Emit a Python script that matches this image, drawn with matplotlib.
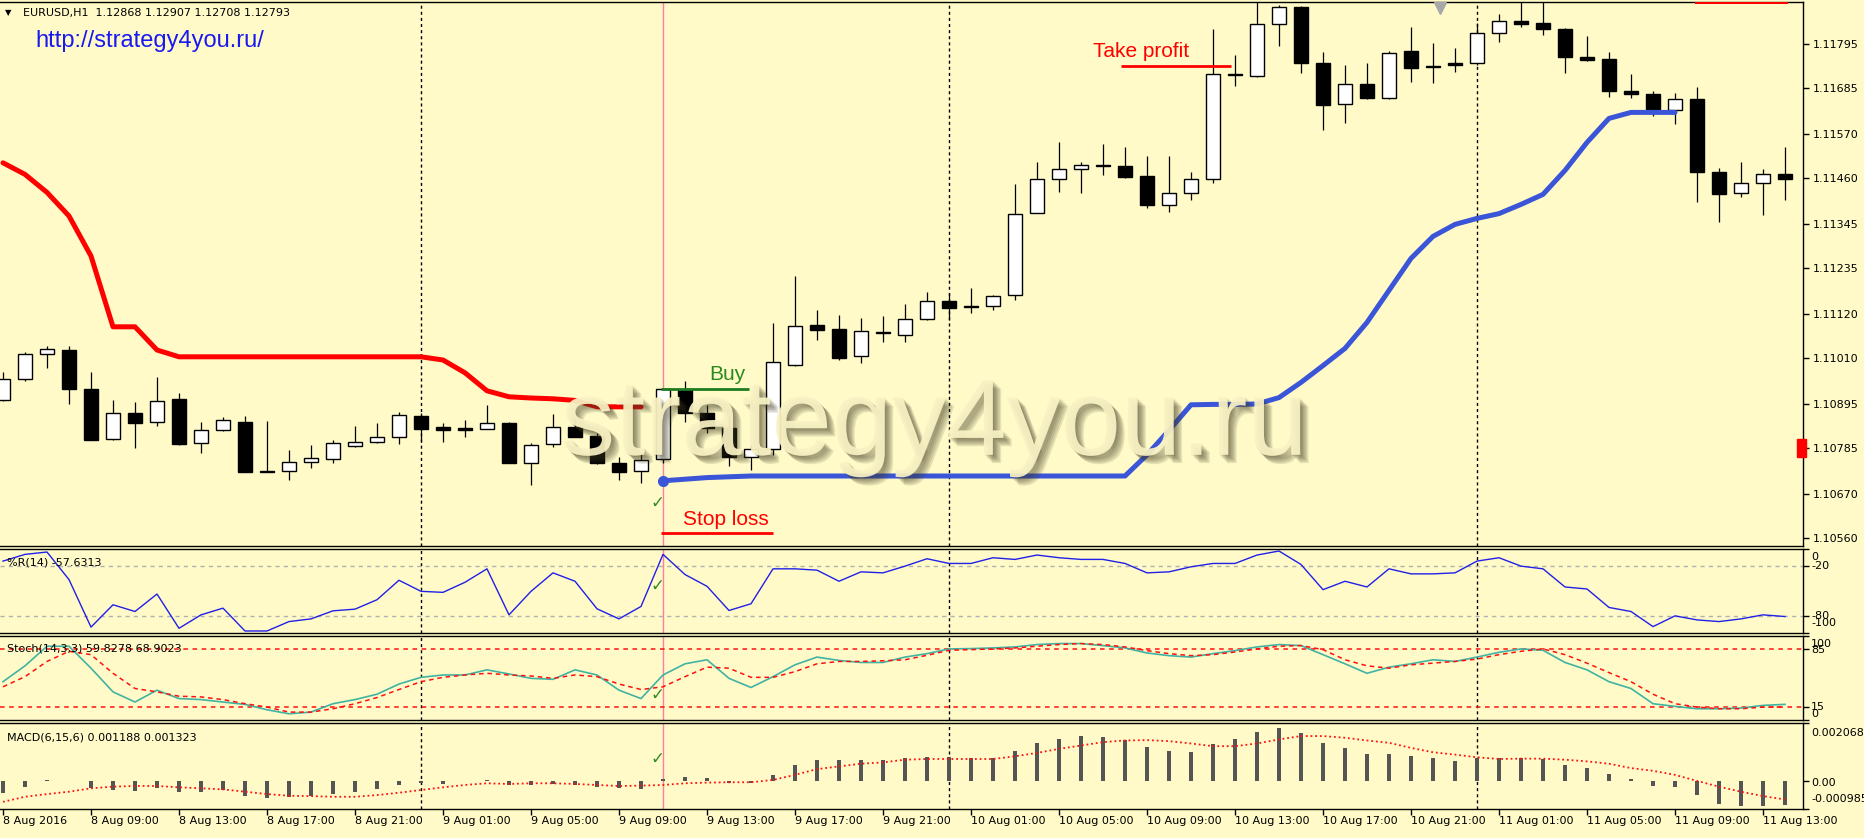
import numpy as np
import matplotlib
matplotlib.use("Agg")
from matplotlib import pyplot as plt, patheffects as pe, transforms
from matplotlib.patches import Rectangle

W, H = 1864, 838
BG = "#FFFAC8"

# EURUSD H1, bars from 8 Aug 2016 05:00
opens = [1.10906, 1.10958, 1.11020, 1.11031, 1.10933, 1.10808, 1.10873, 1.10852, 1.10908, 1.10798,
         1.10831, 1.10852, 1.10729, 1.10729, 1.10752, 1.10759, 1.10792, 1.10800, 1.10814, 1.10866,
         1.10839, 1.10835, 1.10834, 1.10849, 1.10748, 1.10796, 1.10839, 1.10817, 1.10749, 1.10729,
         1.10759, 1.10931, 1.10873, 1.10835, 1.10763, 1.10784, 1.10994, 1.11094, 1.11083, 1.11015,
         1.11075, 1.11069, 1.11108, 1.11154, 1.11142, 1.11141, 1.11168, 1.11373, 1.11459, 1.11483,
         1.11494, 1.11491, 1.11467, 1.11394, 1.11424, 1.11458, 1.11721, 1.11716, 1.11846, 1.11889,
         1.11748, 1.11645, 1.11696, 1.11660, 1.11779, 1.11741, 1.11749, 1.11748, 1.11823, 1.11854,
         1.11848, 1.11834, 1.11764, 1.11758, 1.11679, 1.11671, 1.11631, 1.11659, 1.11477, 1.11424,
         1.11448, 1.11470]
highs = [1.10977, 1.11027, 1.11042, 1.11042, 1.10977, 1.10906, 1.10900, 1.10963, 1.10923, 1.10852,
         1.10863, 1.10867, 1.10854, 1.10781, 1.10794, 1.10806, 1.10842, 1.10849, 1.10877, 1.10873,
         1.10849, 1.10856, 1.10894, 1.10851, 1.10798, 1.10870, 1.10859, 1.10823, 1.10764, 1.10777,
         1.10935, 1.10954, 1.10894, 1.10866, 1.10794, 1.11098, 1.11216, 1.11131, 1.11119, 1.11110,
         1.11115, 1.11145, 1.11175, 1.11173, 1.11185, 1.11169, 1.11445, 1.11500, 1.11552, 1.11500,
         1.11546, 1.11539, 1.11516, 1.11516, 1.11477, 1.11833, 1.11769, 1.11910, 1.11894, 1.11891,
         1.11777, 1.11744, 1.11748, 1.11779, 1.11838, 1.11799, 1.11785, 1.11848, 1.11871, 1.11915,
         1.11915, 1.11837, 1.11817, 1.11775, 1.11721, 1.11679, 1.11673, 1.11689, 1.11485, 1.11502,
         1.11483, 1.11539]
lows = [1.10904, 1.10954, 1.10985, 1.10895, 1.10806, 1.10806, 1.10785, 1.10841, 1.10794, 1.10774,
        1.10829, 1.10725, 1.10725, 1.10706, 1.10735, 1.10748, 1.10789, 1.10799, 1.10796, 1.10802,
        1.10802, 1.10814, 1.10833, 1.10748, 1.10694, 1.10789, 1.10813, 1.10745, 1.10706, 1.10698,
        1.10748, 1.10852, 1.10824, 1.10742, 1.10731, 1.10769, 1.10990, 1.11056, 1.11006, 1.10998,
        1.11052, 1.11050, 1.11105, 1.11106, 1.11123, 1.11131, 1.11156, 1.11373, 1.11427, 1.11423,
        1.11469, 1.11462, 1.11385, 1.11375, 1.11406, 1.11449, 1.11691, 1.11714, 1.11792, 1.11723,
        1.11581, 1.11598, 1.11658, 1.11658, 1.11702, 1.11698, 1.11727, 1.11744, 1.11800, 1.11839,
        1.11819, 1.11723, 1.11754, 1.11663, 1.11660, 1.11616, 1.11595, 1.11402, 1.11352, 1.11413,
        1.11369, 1.11406]
closes = [1.10959, 1.11021, 1.11034, 1.10934, 1.10806, 1.10873, 1.10848, 1.10904, 1.10795, 1.10831,
          1.10856, 1.10725, 1.10725, 1.10752, 1.10760, 1.10798, 1.10800, 1.10814, 1.10869, 1.10834,
          1.10831, 1.10832, 1.10848, 1.10748, 1.10794, 1.10839, 1.10814, 1.10748, 1.10725, 1.10756,
          1.10933, 1.10873, 1.10835, 1.10763, 1.10783, 1.11000, 1.11092, 1.11081, 1.11012, 1.11079,
          1.11073, 1.11109, 1.11154, 1.11135, 1.11139, 1.11167, 1.11370, 1.11459, 1.11483, 1.11494,
          1.11491, 1.11464, 1.11394, 1.11424, 1.11459, 1.11720, 1.11719, 1.11846, 1.11888, 1.11748,
          1.11644, 1.11695, 1.11660, 1.11774, 1.11735, 1.11739, 1.11744, 1.11823, 1.11854, 1.11846,
          1.11833, 1.11764, 1.11756, 1.11679, 1.11671, 1.11634, 1.11658, 1.11475, 1.11421, 1.11449,
          1.11470, 1.11459]

# resistance (red) for bars 0..29, support (blue) for bars 30..76
resistance = [1.11499, 1.11470, 1.11425, 1.11366, 1.11266, 1.11089, 1.11089, 1.11031, 1.11014, 1.11014,
              1.11014, 1.11014, 1.11014, 1.11014, 1.11014, 1.11014, 1.11014, 1.11014, 1.11014, 1.11014,
              1.11006, 1.10974, 1.10929, 1.10914, 1.10911, 1.10909, 1.10905, 1.10889, 1.10889, 1.10889]
resistance_top = [1.11903, 1.11903, 1.11903, 1.11903, 1.11903]   # bars 77..81, at the top edge
support = [1.10704, 1.10708, 1.10712, 1.10714, 1.10716, 1.10716, 1.10716, 1.10716, 1.10716, 1.10716,
           1.10716, 1.10716, 1.10716, 1.10716, 1.10716, 1.10716, 1.10716, 1.10716, 1.10716, 1.10716,
           1.10716, 1.10716, 1.10769, 1.10830, 1.10894, 1.10895, 1.10895, 1.10896, 1.10912, 1.10950,
           1.10992, 1.11035, 1.11100, 1.11180, 1.11260, 1.11315, 1.11345, 1.11360, 1.11372, 1.11395,
           1.11420, 1.11480, 1.11550, 1.11610, 1.11625, 1.11625, 1.11625]

wpr = [-14.4, -6.4, -3.6, -36.4, -93.0, -66.4, -74.4, -53.6, -94.4, -78.4,
       -70.4, -97.6, -97.6, -86.4, -83.2, -73.6, -71.6, -60.4, -37.2, -50.4,
       -51.6, -39.6, -23.6, -78.4, -50.4, -28.4, -38.4, -71.2, -83.2, -68.4,
       -6.4, -30.4, -44.4, -73.2, -65.2, -23.6, -23.6, -25.2, -38.4, -27.2,
       -28.4, -20.4, -11.6, -17.2, -17.2, -10.4, -12.4, -7.2, -10.4, -12.4,
       -12.4, -17.2, -28.4, -27.2, -21.2, -17.2, -17.2, -7.2, -2.4, -18.4,
       -48.4, -38.4, -45.2, -23.6, -29.6, -29.6, -28.4, -14.4, -10.4, -20.4,
       -23.6, -45.2, -47.6, -69.6, -74.4, -92.4, -79.6, -84.4, -86.4, -83.2,
       -78.4, -80.4]

stoch_main = [45.6, 64.5, 87.8, 87.8, 61.7, 33.5, 21.4, 35.5, 25.5, 24.3,
              21.4, 18.6, 12.2, 7.4, 9.4, 19.4, 24.3, 30.7, 42.8, 50.8,
              53.6, 53.6, 59.7, 54.8, 49.6, 48.4, 59.7, 53.6, 35.5, 25.5,
              53.6, 66.9, 71.7, 49.6, 38.7, 51.6, 65.7, 74.9, 70.9, 68.5,
              68.5, 74.9, 79.0, 84.6, 85.0, 85.8, 87.0, 89.8, 91.0, 91.0,
              88.6, 85.8, 79.8, 76.6, 74.9, 79.0, 82.6, 87.0, 89.8, 88.6,
              77.8, 66.9, 55.6, 62.9, 66.9, 71.7, 69.7, 74.9, 80.6, 84.6,
              83.0, 68.5, 59.7, 45.6, 37.5, 19.4, 16.2, 13.4, 13.4, 14.2,
              17.4, 18.6]
stoch_signal = [39.5, 51.6, 69.7, 81.8, 77.8, 55.6, 37.5, 33.5, 28.3, 27.5,
                24.3, 19.4, 15.4, 9.4, 9.4, 13.4, 19.4, 26.7, 36.3, 45.6,
                50.8, 53.6, 55.6, 53.6, 52.4, 49.6, 53.6, 51.6, 42.8, 36.3,
                39.5, 51.6, 62.9, 61.7, 50.8, 50.8, 57.6, 66.9, 69.7, 69.7,
                70.5, 71.7, 77.0, 83.0, 83.8, 84.6, 85.8, 87.8, 89.8, 91.0,
                89.8, 87.0, 82.6, 79.0, 76.6, 77.8, 81.0, 84.6, 87.8, 88.6,
                83.8, 71.7, 64.5, 61.7, 65.7, 67.7, 69.7, 72.5, 77.8, 81.8,
                84.6, 77.8, 67.7, 56.4, 45.6, 30.7, 19.4, 15.4, 13.4, 13.4,
                15.4, 15.4]

macd_hist = [-0.000431, -0.000192, 0.000048, 0.000010, -0.000251, -0.000311, -0.000335, -0.000251, -0.000371, -0.000371,
             -0.000311, -0.000527, -0.000587, -0.000551, -0.000515, -0.000455, -0.000395, -0.000287, -0.000132, -0.000048,
             -0.000096, 0.000024, 0.000048, -0.000132, -0.000132, -0.000096, -0.000132, -0.000192, -0.000251, -0.000287,
             0.000072, 0.000144, 0.000108, -0.000048, -0.000072, 0.000227, 0.000587, 0.000766, 0.000742, 0.000766,
             0.000766, 0.000826, 0.000862, 0.000860, 0.000825, 0.000825, 0.001090, 0.001365, 0.001508, 0.001604,
             0.001568, 0.001460, 0.001221, 0.001077, 0.001029, 0.001305, 0.001508, 0.001760, 0.001903, 0.001724,
             0.001365, 0.001173, 0.000970, 0.000970, 0.000886, 0.000826, 0.000730, 0.000826, 0.000826, 0.000826,
             0.000790, 0.000587, 0.000467, 0.000251, 0.000096, -0.000170, -0.000215, -0.000491, -0.000790, -0.000886,
             -0.000886, -0.000850]
macd_signal = [-0.000730, -0.000551, -0.000455, -0.000371, -0.000251, -0.000191, -0.000168, -0.000168, -0.000215, -0.000251,
               -0.000287, -0.000371, -0.000455, -0.000515, -0.000527, -0.000551, -0.000551, -0.000491, -0.000407, -0.000311,
               -0.000215, -0.000132, -0.000072, -0.000096, -0.000072, -0.000072, -0.000096, -0.000132, -0.000168, -0.000156,
               -0.000132, -0.000072, -0.000048, -0.000036, -0.000036, 0.000048, 0.000227, 0.000431, 0.000527, 0.000623,
               0.000670, 0.000766, 0.000790, 0.000790, 0.000790, 0.000790, 0.000886, 0.001006, 0.001149, 0.001269,
               0.001389, 0.001448, 0.001460, 0.001424, 0.001341, 0.001245, 0.001245, 0.001341, 0.001484, 0.001604,
               0.001604, 0.001544, 0.001448, 0.001365, 0.001185, 0.001029, 0.000946, 0.000850, 0.000790, 0.000802,
               0.000802, 0.000766, 0.000706, 0.000623, 0.000467, 0.000371, 0.000227, 0.000012, -0.000191, -0.000371,
               -0.000527, -0.000646]

price_ticks = [1.11795, 1.11685, 1.11570, 1.11460, 1.11345, 1.11235, 1.11120, 1.11010, 1.10895, 1.10785, 1.10670, 1.10560]
time_labels = ["8 Aug 2016", "8 Aug 09:00", "8 Aug 13:00", "8 Aug 17:00", "8 Aug 21:00",
               "9 Aug 01:00", "9 Aug 05:00", "9 Aug 09:00", "9 Aug 13:00", "9 Aug 17:00", "9 Aug 21:00",
               "10 Aug 01:00", "10 Aug 05:00", "10 Aug 09:00", "10 Aug 13:00", "10 Aug 17:00", "10 Aug 21:00",
               "11 Aug 01:00", "11 Aug 05:00", "11 Aug 09:00", "11 Aug 13:00"]
day_breaks = [19, 43, 67]
entry_bar = 30
buy_price, take_profit, stop_loss = 1.10933, 1.11742, 1.10574

bars = np.arange(len(opens))
o, h, l, c = map(np.array, (opens, highs, lows, closes))

fig = plt.figure(figsize=(W / 100, H / 100), dpi=100, facecolor=BG)


def pane(top, bottom):
    ax = fig.add_axes([0, 1 - bottom / H, 1803 / W, (bottom - top) / H])
    ax.set_facecolor(BG)
    ax.set_xlim(-3 / 22, 1800 / 22)
    for s in ax.spines.values():
        s.set_color("black")
        s.set_linewidth(1)
    ax.spines["left"].set_visible(False)
    ax.tick_params(axis="x", bottom=False, labelbottom=False)
    ax.yaxis.tick_right()
    ax.tick_params(axis="y", direction="out", length=4, width=1, labelsize=8, pad=3)
    for b in day_breaks:
        ax.axvline(b, color="black", ls=(0, (2.2, 2.2)), lw=1, zorder=1)
    ax.axvline(entry_bar, color="#FF7FA0", lw=1, zorder=1)
    return ax


def side_labels(ax, vals, texts, down):
    # MT4 keeps the end labels inside the pane: shift them by a few pixels
    ax.set_yticks(vals)
    ax.set_yticklabels([""] * len(vals))
    for v, t, d in zip(vals, texts, down):
        ax.annotate(t, xy=(1, v), xycoords=("axes fraction", "data"), xytext=(8, -d),
                    textcoords="offset pixels", va="center", ha="left", fontsize=8,
                    annotation_clip=False)


def check(ax, y):
    ax.text(entry_bar - 0.25, y, "\u2713", color="#2E8B22", fontsize=12, ha="center", va="center", zorder=8)


# ---- main price pane ----
ax = pane(2, 546)
ax.set_ylim(1.10541, 1.11901)
ax.set_yticks(price_ticks)
ax.set_yticklabels([f"{p:.5f}" for p in price_ticks])

ax.vlines(bars, l, h, color="black", lw=0.9, zorder=3)
body_col = np.where(c >= o, "white", "black")
ax.bar(bars, np.maximum(np.abs(c - o), 0.000012), bottom=np.minimum(o, c), width=0.64,
       color=body_col, edgecolor="black", linewidth=1, zorder=4)

ax.plot(bars[:30], resistance, color="#FF0000", lw=3.6, solid_capstyle="round", zorder=5)
ax.plot(bars[77:], resistance_top, color="#FF0000", lw=3.6, zorder=5)
ax.plot(bars[30:77], support, color="#3A55D8", lw=3.6, solid_capstyle="round", zorder=5)
ax.plot(bars[30], support[0], "o", color="#3A55D8", ms=7, zorder=5)

ax.text(25.36, 1.10769, "strategy4you.ru", fontsize=78, family="Liberation Sans", color="#F9F2C4",
        alpha=0.93, zorder=6,
        path_effects=[pe.SimplePatchShadow(offset=(d, -d), shadow_rgbFace="#3E3A20", alpha=0.13)
                      for d in (1, 2, 3, 4, 5, 6)] + [pe.Normal()])

ax.hlines(buy_price, 29.9, 33.9, color="#1E7B1E", lw=2, zorder=7)
ax.text(32.1, 1.10956, "Buy", color="#2A8A1E", fontsize=15, family="Liberation Sans", zorder=7)
ax.hlines(take_profit, 50.8, 55.8, color="#FF0000", lw=2, zorder=7)
ax.text(49.55, 1.11763, "Take profit", color="#FF0000", fontsize=15, family="Liberation Sans", zorder=7)
ax.hlines(stop_loss, 29.9, 35.0, color="#FF0000", lw=2, zorder=7)
ax.text(30.9, 1.10594, "Stop loss", color="#FF0000", fontsize=15, family="Liberation Sans", zorder=7)
check(ax, 1.10649)

ax.plot(65.3, 1.11887, marker="v", color="#A8A8A8", ms=8, zorder=8, clip_on=False)
blend = transforms.blended_transform_factory(ax.transAxes, ax.transData)
ax.add_patch(Rectangle((1 - 6 / 1803, 1.10786 - 0.00022), 9 / 1803, 0.00044, transform=blend,
                       color="#FF0000", clip_on=False, zorder=9))

# ---- Williams %R ----
ax_r = pane(549, 633)
ax_r.set_ylim(-100, 0)
ax_r.plot(bars, wpr, color="#2020E8", lw=1, zorder=3)
for lv in (-20, -80):
    ax_r.axhline(lv, color="#B0B0B0", ls=(0, (3, 3)), lw=1, zorder=2)
side_labels(ax_r, [0, -20, -80, -100], ["0", "-20", "-80", "-100"], [8, 0, 0, -10])
ax_r.text(7 / 1803, 0.845, "%R(14) -57.6313", transform=ax_r.transAxes, fontsize=8, va="center")
check(ax_r, -43.6)

# ---- Stochastic ----
ax_s = pane(636, 720)
ax_s.set_ylim(0, 100)
for lv in (85, 15):
    ax_s.axhline(lv, color="#FF1010", ls=(0, (3, 3)), lw=1.1, zorder=2)
ax_s.plot(bars, stoch_main, color="#40B3A2", lw=1.2, zorder=3)
ax_s.plot(bars, stoch_signal, color="#FF1010", ls=(0, (3, 2.5)), lw=1.1, zorder=3)
side_labels(ax_s, [100, 85, 15, 0], ["100", "85", "15", "0"], [8, 1, 0, -6])
ax_s.text(7 / 1803, 0.857, "Stoch(14,3,3) 59.8278 68.9023", transform=ax_s.transAxes, fontsize=8, va="center")
check(ax_s, 29.5)

# ---- MACD ----
ax_m = pane(723, 809)
ax_m.set_ylim(-0.000985, 0.002068)
ax_m.bar(bars, macd_hist, width=0.2, color="#555555", zorder=3)
ax_m.plot(bars, macd_signal, color="#FF1010", ls=(0, (1, 1.6)), lw=1.3, zorder=4)
side_labels(ax_m, [0.002068, 0.0, -0.000985], ["0.002068", "0.00", "-0.000985"], [10, 2, -10])
ax_m.text(7 / 1803, 0.837, "MACD(6,15,6) 0.001188 0.001323", transform=ax_m.transAxes, fontsize=8, va="center")
check(ax_m, 0.00081)

ax_m.set_xticks(range(0, 81, 4))
ax_m.set_xticklabels(time_labels)
ax_m.tick_params(axis="x", bottom=True, labelbottom=True, direction="out", length=4, width=1,
                 labelsize=8, pad=1)
for lbl in ax_m.get_xticklabels():
    lbl.set_horizontalalignment("left")

# ---- header texts ----
fig.text(5 / W, 1 - 13 / H, "\u25BC", fontsize=6, va="center")
fig.text(23 / W, 1 - 13 / H, "EURUSD,H1  1.12868 1.12907 1.12708 1.12793", fontsize=8, va="center")
fig.text(35 / W, 1 - 41 / H, "http://strategy4you.ru/", color="#1A1AF0", fontsize=17,
         family="Liberation Sans", va="center")

fig.savefig("out.png", dpi=100, facecolor=BG)
